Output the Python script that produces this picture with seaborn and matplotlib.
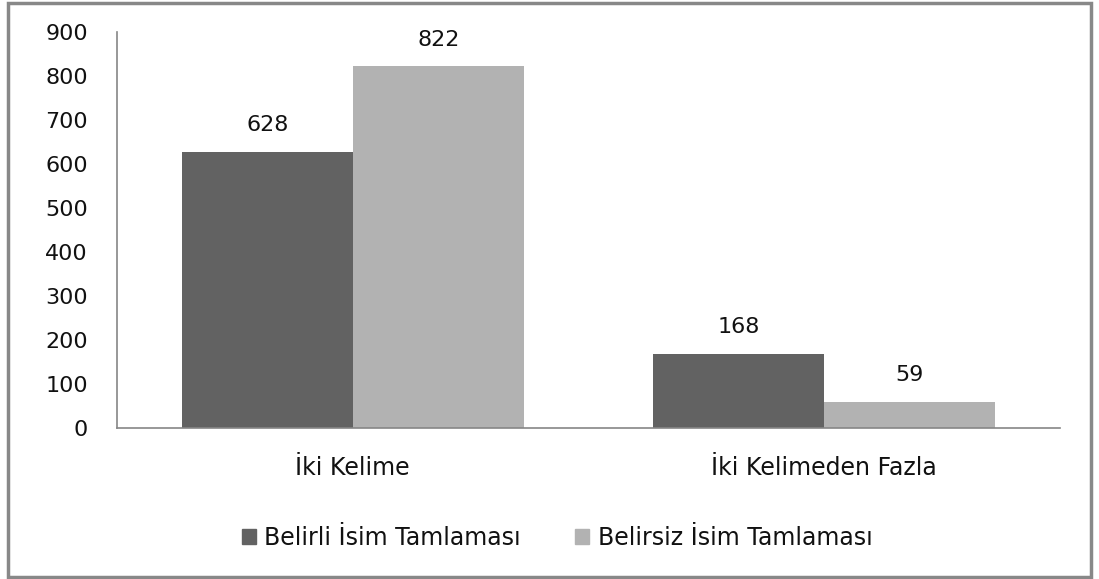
import matplotlib
matplotlib.use("Agg")
import matplotlib.pyplot as plt
import seaborn as sns
import pandas as pd
from matplotlib.patches import Rectangle

categories = ["İki Kelime", "İki Kelimeden Fazla"]
series = ["Belirli İsim Tamlaması", "Belirsiz İsim Tamlaması"]
belirli = [628, 168]
belirsiz = [822, 59]
yticks = [0, 100, 200, 300, 400, 500, 600, 700, 800, 900]

df = pd.DataFrame({
    "cat": categories * 2,
    "series": [series[0]] * 2 + [series[1]] * 2,
    "value": belirli + belirsiz,
})

sns.set_theme(style="white")
plt.rcParams["font.family"] = ["DejaVu Sans"]

fig = plt.figure(figsize=(10.99, 5.79), dpi=100)
ax = fig.add_axes([117 / 1099, 1 - 428 / 579, (1060 - 117) / 1099, (428 - 32) / 579])

sns.barplot(data=df, x="cat", y="value", hue="series", order=categories,
            hue_order=series, palette=["#626262", "#b2b2b2"], width=0.725,
            gap=0, saturation=1, ax=ax, legend=False, linewidth=0)

for c in ax.containers:
    ax.bar_label(c, padding=12, fontsize=16, color="#111111")

ax.set_ylim(0, 900)
ax.set_yticks(yticks)
ax.set_xlim(-0.5, 1.5)
ax.tick_params(axis="y", length=0, pad=21, labelsize=16, labelcolor="#111111")
ax.tick_params(axis="x", length=0, pad=20, labelsize=17, labelcolor="#111111")
ax.set_xlabel("")
ax.set_ylabel("")
for s in ["top", "right"]:
    ax.spines[s].set_visible(False)
for s in ["left", "bottom"]:
    ax.spines[s].set_color("#868686")
    ax.spines[s].set_linewidth(1.2)

handles = [Rectangle((0, 0), 1, 1, color=col) for col in ["#626262", "#b2b2b2"]]
fig.legend(handles, series, loc="center", bbox_to_anchor=(0.507, 1 - 538 / 579),
           ncol=2, frameon=False, fontsize=17, handlelength=0.6, handleheight=0.6,
           handletextpad=0.35, columnspacing=2.3, labelcolor="#111111")

fig.patches.append(Rectangle((0.007, 0.004), 0.986, 0.991, transform=fig.transFigure,
                             fill=False, edgecolor="#888888", linewidth=2.5))

fig.savefig("out.png", dpi=100)
